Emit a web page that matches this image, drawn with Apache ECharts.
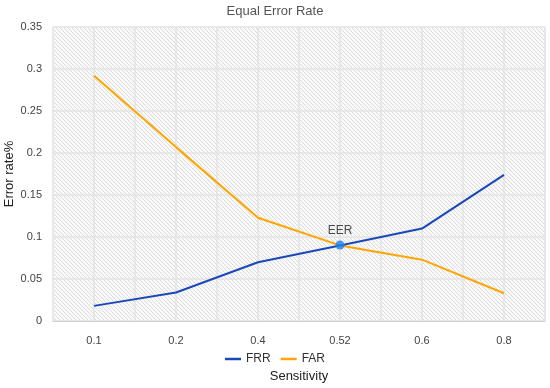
<!DOCTYPE html>
<html>
<head>
<meta charset="utf-8">
<script src="https://cdn.jsdelivr.net/npm/echarts@6/dist/echarts.min.js"></script>
<style>html,body{margin:0;padding:0;background:#fff}#c{width:550px;height:388px}</style>
</head>
<body>
<div id="c"></div>
<script>
var categories = ['0.1', '0.2', '0.4', '0.52', '0.6', '0.8'];
var frr = [0.018, 0.034, 0.07, 0.09, 0.11, 0.174];
var far = [0.292, 0.207, 0.123, 0.09, 0.073, 0.033];
var eer = [null, null, null, 0.0905, null, null];
var yTicks = { min: 0, max: 0.35, interval: 0.05 };

var pc = document.createElement('canvas');
pc.width = 4; pc.height = 4;
var ctx = pc.getContext('2d');
ctx.fillStyle = '#f9f9f9';
ctx.fillRect(0, 0, 4, 4);
ctx.strokeStyle = '#dcdcdc';
ctx.lineWidth = 1;
ctx.beginPath();
ctx.moveTo(-1, -1); ctx.lineTo(5, 5);
ctx.moveTo(-1, 3); ctx.lineTo(1, 5);
ctx.moveTo(3, -1); ctx.lineTo(5, 1);
ctx.stroke();

var halfCats = [];
for (var i = 0; i < categories.length * 2; i++) halfCats.push('');

var chart = echarts.init(document.getElementById('c'));
var font = 'Liberation Sans';
chart.setOption({
  animation: false,
  textStyle: { fontFamily: font },
  title: {
    text: 'Equal Error Rate', left: 'center', top: 0,
    textStyle: { fontSize: 13, fontWeight: 'normal', color: '#555', fontFamily: font }
  },
  legend: {
    data: [{ name: 'FRR', icon: 'rect' }, { name: 'FAR', icon: 'rect' }],
    top: 348, left: 'center',
    itemWidth: 16, itemHeight: 2.5, itemGap: 10,
    textStyle: { fontSize: 12, color: '#333', fontFamily: font }
  },
  grid: {
    left: 53, right: 5, top: 27, bottom: 67, show: true, outerBoundsMode: 'none', containLabel: false,
    backgroundColor: { image: pc, repeat: 'repeat' }, borderWidth: 0
  },
  xAxis: [{
    type: 'category', data: categories, boundaryGap: true,
    name: 'Sensitivity', nameLocation: 'middle', nameGap: 49, nameMoveOverlap: false,
    nameTextStyle: { fontSize: 13, color: '#222', fontFamily: font },
    axisLine: { lineStyle: { color: '#d0d0d0' } },
    axisTick: { show: false },
    axisLabel: { fontSize: 11, color: '#444', margin: 14 },
    splitLine: { show: false }
  }, {
    type: 'category', data: halfCats, boundaryGap: true, position: 'bottom',
    axisLine: { show: false }, axisTick: { show: false }, axisLabel: { show: false },
    splitLine: { show: true, interval: 0, lineStyle: { color: '#e3e3e3', width: 1.5 } }
  }],
  yAxis: {
    type: 'value', min: yTicks.min, max: yTicks.max, interval: yTicks.interval,
    name: 'Error rate%', nameLocation: 'middle', nameGap: 37, nameMoveOverlap: false,
    nameTextStyle: { fontSize: 13, color: '#222', fontFamily: font },
    axisLine: { show: false }, axisTick: { show: false },
    axisLabel: { fontSize: 11, color: '#444', margin: 11 },
    splitLine: { lineStyle: { color: '#e3e3e3', width: 1.5 } }
  },
  series: [{
    name: 'FRR', type: 'line', data: frr, symbol: 'none',
    lineStyle: { color: '#1a48b8', width: 2 }, itemStyle: { color: '#1a48b8' }, z: 3
  }, {
    name: 'FAR', type: 'line', data: far, symbol: 'none',
    lineStyle: { color: '#ffa500', width: 2 }, itemStyle: { color: '#ffa500' }, z: 2
  }, {
    name: 'EER', type: 'scatter', data: eer, symbolSize: 9, z: 5,
    itemStyle: { color: '#1e7ff0' },
    label: { show: true, position: 'top', formatter: 'EER', distance: 4, fontSize: 12, color: '#222', fontFamily: font }
  }]
});
</script>
</body>
</html>
